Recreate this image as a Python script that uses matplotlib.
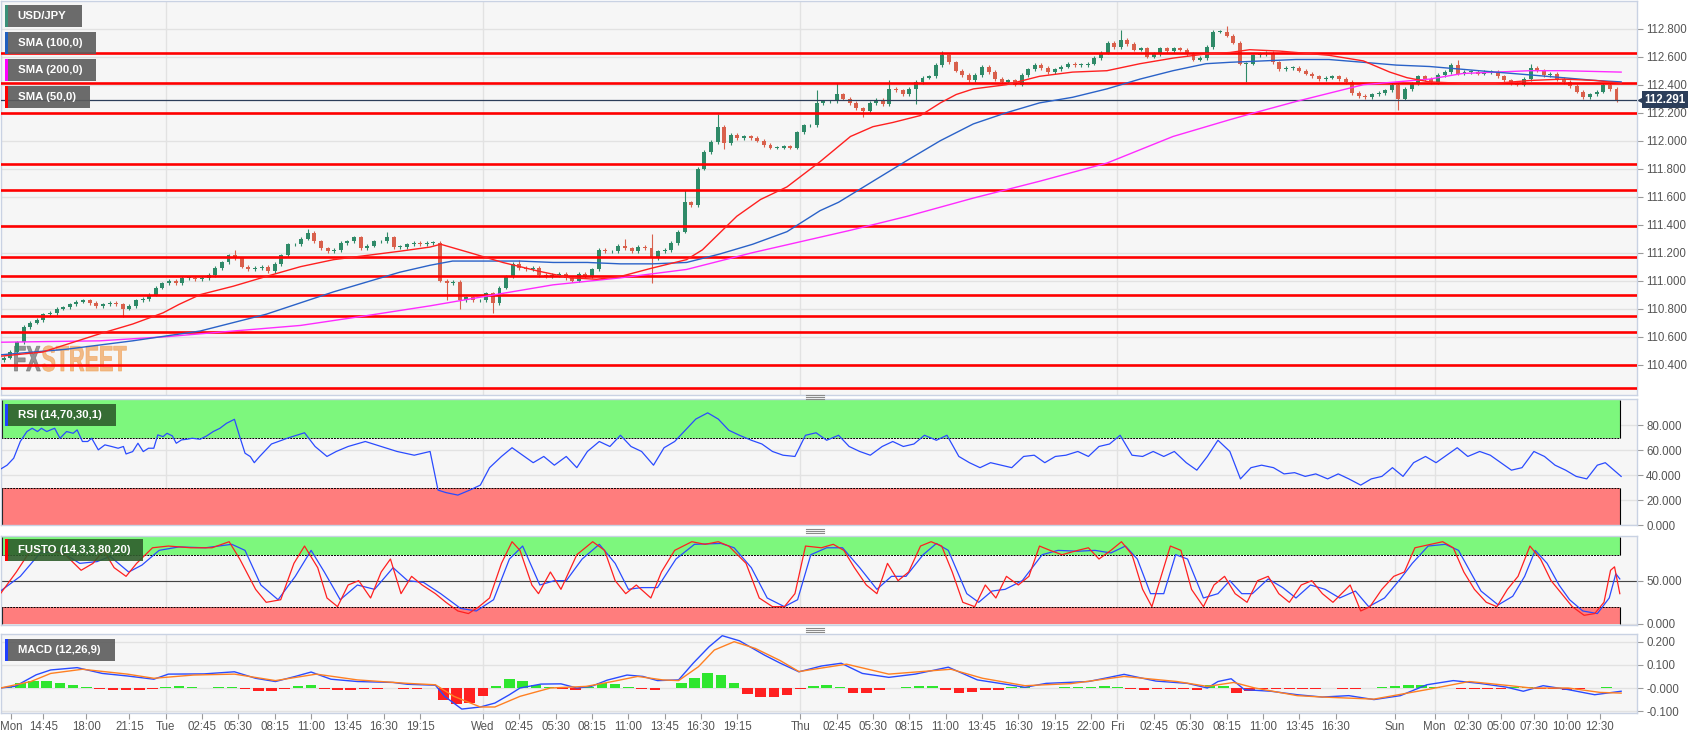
import matplotlib
matplotlib.use("Agg")
import matplotlib.pyplot as plt
import numpy as np
from matplotlib.patches import Rectangle, PathPatch
from matplotlib.lines import Line2D
from matplotlib.textpath import TextPath
from matplotlib.font_manager import FontProperties
from matplotlib.transforms import Affine2D, blended_transform_factory

plt.rcParams['font.family'] = ['Liberation Sans', 'DejaVu Sans']

# time axis is in trading hours from Mon 00:00 (weekend removed)
# 30 min candles, closes at 12.0, 12.5, ... 134.0
first_open = 110.43
close = [
    110.45, 110.49, 110.56, 110.67, 110.70, 110.72, 110.76, 110.77, 110.80, 110.81,
    110.83, 110.85, 110.86, 110.84, 110.82, 110.83, 110.84, 110.83, 110.80, 110.82,
    110.86, 110.87, 110.90, 110.95, 110.98, 111.00, 110.98, 111.02, 111.02, 111.01,
    111.02, 111.04, 111.09, 111.13, 111.18, 111.16, 111.10, 111.08, 111.09, 111.10,
    111.07, 111.12, 111.18, 111.26, 111.26, 111.30, 111.34, 111.28, 111.23, 111.21,
    111.22, 111.27, 111.28, 111.31, 111.23, 111.25, 111.28, 111.28, 111.31, 111.24,
    111.24, 111.26, 111.27, 111.26, 111.27, 111.27, 111.00, 110.98, 110.99, 110.86,
    110.88, 110.86, 110.86, 110.91, 110.84, 110.95, 111.03, 111.12, 111.09, 111.08,
    111.09, 111.04, 111.03, 111.04, 111.05, 111.02, 111.00, 111.05, 111.03, 111.08,
    111.22, 111.21, 111.21, 111.25, 111.23, 111.21, 111.24, 111.23, 111.16, 111.21,
    111.22, 111.27, 111.35, 111.56, 111.54, 111.80, 111.92, 111.99, 112.10, 111.98,
    112.04, 112.02, 112.03, 112.02, 112.00, 111.97, 111.95, 111.95, 111.96, 111.95,
    112.06, 112.11, 112.11, 112.27, 112.28, 112.28, 112.33, 112.30, 112.27, 112.23,
    112.21, 112.27, 112.29, 112.26, 112.37, 112.36, 112.33, 112.37, 112.42, 112.45,
    112.46, 112.54, 112.61, 112.56, 112.50, 112.47, 112.43, 112.47, 112.53, 112.49,
    112.44, 112.42, 112.43, 112.40, 112.47, 112.51, 112.54, 112.52, 112.49, 112.51,
    112.53, 112.55, 112.54, 112.54, 112.55, 112.59, 112.63, 112.70, 112.67, 112.72,
    112.69, 112.65, 112.66, 112.60, 112.62, 112.66, 112.64, 112.66, 112.65, 112.62,
    112.58, 112.59, 112.67, 112.78, 112.78, 112.75, 112.70, 112.55, 112.55, 112.61,
    112.62, 112.63, 112.56, 112.51, 112.52, 112.52, 112.50, 112.48, 112.46, 112.44,
    112.45, 112.46, 112.44, 112.42, 112.34, 112.32, 112.31, 112.33, 112.34, 112.36,
    112.40, 112.30, 112.37, 112.41, 112.46, 112.44, 112.42, 112.47, 112.49, 112.54,
    112.48, 112.49, 112.49, 112.48, 112.49, 112.49, 112.46, 112.43, 112.41, 112.40,
    112.44, 112.52, 112.50, 112.47, 112.48, 112.44, 112.42, 112.39, 112.35, 112.31,
    112.33, 112.35, 112.40, 112.37, 112.29,
]
# long wicks, keyed by candle close time
hi_spike = {29.5: 111.22, 35.0: 111.37, 41.0: 111.35, 51.0: 111.15, 59.0: 111.30,
            61.0: 111.33, 63.5: 111.65, 66.0: 112.19, 73.5: 112.36, 75.0: 112.41,
            79.0: 112.43, 83.0: 112.64, 96.5: 112.79, 104.5: 112.82, 122.0: 112.58,
            127.5: 112.55}
lo_spike = {21.0: 110.74, 45.5: 110.86, 46.5: 110.80, 49.0: 110.77, 61.0: 110.98,
            66.5: 111.94, 77.0: 112.17, 81.0: 112.26, 106.0: 112.42, 117.5: 112.22}
last_price = 112.291
levels = [112.63, 112.41, 112.20, 111.83, 111.65, 111.39, 111.17, 111.03,
          110.90, 110.75, 110.63, 110.40, 110.23]

sma50 = [(11.5, 110.46), (14.7, 110.49), (19, 110.62), (21.5, 110.69), (23.8, 110.77),
         (25, 110.83), (26.6, 110.90), (29.1, 110.96), (31.6, 111.03), (34.2, 111.10),
         (36.7, 111.15), (39.2, 111.18), (41.7, 111.21), (44, 111.24), (44.8, 111.26),
         (47, 111.20), (49.5, 111.13), (52.1, 111.07), (54.6, 111.02), (56.6, 111.01),
         (58.4, 111.03), (60.8, 111.09), (63.4, 111.15), (64.6, 111.22), (65.9, 111.34),
         (67.2, 111.46), (69, 111.58), (71, 111.67), (73.5, 111.85), (75.8, 112.03),
         (77.5, 112.10), (79, 112.13), (81.1, 112.18), (82.6, 112.27), (83.8, 112.33),
         (85.1, 112.37), (87.6, 112.40), (90.1, 112.46), (92.6, 112.49), (95.2, 112.50),
         (97.7, 112.55), (100.2, 112.59), (102.7, 112.62), (104.5, 112.63), (106, 112.65),
         (108.3, 112.64), (112, 112.61), (114.6, 112.57), (116.6, 112.49), (117.9, 112.45),
         (119.6, 112.42), (122.1, 112.41), (124.6, 112.41), (127.2, 112.43), (129.7, 112.44),
         (132.2, 112.43), (134.1, 112.41)]
sma100 = [(11.5, 110.47), (16.5, 110.51), (21.5, 110.57), (26.6, 110.64), (31.6, 110.76),
          (36.7, 110.92), (39.2, 110.99), (41.7, 111.06), (44, 111.11), (45.7, 111.14),
          (48.3, 111.14), (50.8, 111.14), (53.3, 111.13), (55.9, 111.13), (58.4, 111.12),
          (60.8, 111.12), (63.4, 111.13), (65.9, 111.19), (68.4, 111.26), (71, 111.35),
          (73.5, 111.50), (74.9, 111.56), (77.5, 111.71), (80.1, 111.86), (82.6, 112.00),
          (85.1, 112.12), (87.6, 112.20), (90.1, 112.27), (92.6, 112.31), (95.2, 112.37),
          (97.7, 112.44), (100.2, 112.50), (102.7, 112.55), (104.5, 112.56), (107, 112.57),
          (109.5, 112.58), (112, 112.58), (114.6, 112.56), (117.1, 112.54), (119.6, 112.53),
          (122.1, 112.51), (124.6, 112.49), (127.2, 112.47), (129.7, 112.45), (132.2, 112.43),
          (134.1, 112.42)]
sma200 = [(11.5, 110.56), (19, 110.57), (24.1, 110.60), (29.1, 110.64), (34.2, 110.68),
          (39.2, 110.75), (44, 110.82), (48.3, 110.89), (53.3, 110.97), (58.4, 111.02),
          (63.4, 111.08), (68.4, 111.20), (75.8, 111.36), (80.1, 111.46), (85.1, 111.59),
          (90.1, 111.71), (95.2, 111.84), (100.2, 112.03), (104.5, 112.15), (106, 112.19),
          (109.5, 112.28), (114.6, 112.40), (119.6, 112.44), (122.1, 112.48), (124.6, 112.49),
          (127.2, 112.50), (129.7, 112.50), (134.1, 112.49)]

rsi = [(11.5, 44.8), (12.0, 48), (12.5, 53.6), (13.0, 67), (13.5, 75), (13.9, 77.6), (14.3, 75),
       (14.6, 77.6), (15.0, 75), (15.4, 76.8), (15.6, 77.6), (16.0, 69.6), (16.5, 75), (17.0, 73.6),
       (17.3, 76.3), (17.7, 67), (18.1, 67), (18.4, 69.6), (18.9, 60.3), (19.4, 64.3), (19.9, 63),
       (20.4, 61.6), (20.8, 63), (21.0, 57), (21.5, 58.9), (21.9, 65.6), (22.3, 58.9), (22.7, 61.6),
       (23.1, 61.6), (23.4, 72.3), (23.8, 70.9), (24.1, 73.6), (24.5, 71.5), (24.8, 65.6),
       (25.2, 68.3), (25.6, 68.8), (26.0, 69.6), (26.6, 68.8), (27.1, 71.5), (27.6, 75),
       (28.1, 77.6), (28.6, 81.6), (29.2, 84.8), (29.6, 70.9), (30.0, 57.6), (30.4, 54.9),
       (30.7, 50), (31.1, 54.9), (32, 65), (33.3, 70), (34.5, 74), (35.3, 63), (36.2, 55),
       (36.9, 59), (37.8, 63), (39.1, 67), (40.3, 63), (41.5, 59), (42.8, 56), (44.0, 59),
       (44.6, 28), (45.2, 26), (46.1, 24), (47.0, 28), (47.8, 32), (48.5, 46), (49.4, 55),
       (50.2, 62), (51.0, 56), (51.8, 50), (52.6, 55), (53.4, 48), (54.3, 55), (55.1, 46),
       (55.9, 59), (56.8, 67), (57.6, 63), (58.4, 72), (59.2, 63), (60.0, 59), (60.9, 48),
       (61.7, 62), (62.5, 67), (63.3, 76), (64.1, 85), (65.0, 90), (65.8, 85), (66.6, 76),
       (67.4, 72), (68.3, 68), (69.1, 65), (69.9, 59), (70.7, 56), (71.6, 55), (72.4, 72),
       (73.2, 74), (74.0, 68), (74.9, 72), (75.7, 63), (76.5, 59), (77.3, 56), (78.2, 63),
       (79.0, 67), (79.8, 63), (80.6, 65), (81.4, 72), (82.3, 68), (83.1, 72), (84.0, 55),
       (84.8, 50), (85.6, 46), (86.4, 50), (87.2, 48), (88.0, 46), (88.9, 55), (89.7, 56),
       (90.5, 50), (91.3, 55), (92.1, 56), (93.0, 59), (93.8, 55), (94.6, 63), (95.4, 65),
       (96.2, 72), (97.1, 56), (97.9, 55), (98.7, 59), (99.5, 55), (100.3, 59), (101.2, 50),
       (102.0, 44), (102.8, 55), (103.6, 68), (104.5, 59), (105.3, 37), (106.1, 46), (106.9, 48),
       (107.8, 46), (108.6, 41), (109.4, 42), (110.2, 39), (111.0, 41), (111.9, 37), (112.7, 41),
       (113.5, 37), (114.4, 32), (115.2, 37), (116.0, 39), (116.8, 46), (117.6, 39), (118.4, 50),
       (119.3, 55), (120.1, 50), (120.9, 56), (121.7, 62), (122.5, 55), (123.4, 59), (124.2, 56),
       (125.0, 50), (125.8, 44), (126.6, 46), (127.5, 59), (128.3, 55), (129.1, 48), (129.9, 44),
       (130.7, 39), (131.5, 37), (132.3, 48), (132.9, 50), (134.1, 39)]

stoch_k = [(11.5, 35), (12.7, 60), (13.9, 88), (15.2, 85), (16.4, 80), (17.6, 62), (18.5, 70),
           (19.3, 85), (20.1, 65), (21.0, 55), (21.8, 70), (23.0, 88), (24.2, 90), (25.9, 88),
           (27.5, 88), (28.8, 95), (29.6, 75), (30.8, 40), (31.6, 25), (32.7, 28), (33.7, 70),
           (34.5, 90), (35.5, 65), (36.2, 30), (37.0, 20), (37.8, 45), (38.6, 50), (39.5, 30),
           (40.3, 60), (41.0, 75), (41.8, 35), (42.6, 55), (43.4, 45), (44.4, 35), (45.2, 25),
           (46.1, 15), (46.9, 12), (47.7, 20), (48.5, 30), (49.4, 70), (50.2, 95), (50.8, 85),
           (51.7, 45), (52.2, 35), (53.1, 60), (53.9, 40), (55.1, 80), (56.3, 95), (57.2, 85),
           (58.0, 50), (58.8, 35), (59.6, 45), (60.7, 30), (61.5, 60), (62.5, 85), (63.8, 95),
           (64.8, 92), (65.8, 95), (66.6, 90), (67.9, 70), (68.9, 30), (69.9, 20), (70.8, 20),
           (71.6, 35), (72.4, 90), (73.6, 88), (74.5, 92), (75.3, 85), (76.1, 65), (77.0, 45),
           (77.8, 35), (78.6, 70), (79.4, 50), (80.2, 60), (81.1, 90), (81.9, 95), (82.7, 90),
           (83.5, 60), (84.3, 25), (85.2, 20), (86.0, 45), (86.8, 30), (87.6, 55), (88.5, 45),
           (89.3, 55), (90.1, 90), (90.9, 85), (91.8, 80), (93.0, 85), (93.8, 88), (94.6, 75),
           (95.5, 85), (96.3, 95), (97.1, 80), (97.9, 40), (98.6, 20), (99.2, 50), (100.0, 90),
           (100.8, 85), (101.6, 40), (102.5, 20), (103.3, 45), (104.1, 55), (104.9, 35),
           (105.8, 25), (106.6, 50), (107.4, 55), (108.2, 35), (109.0, 25), (109.9, 45),
           (110.7, 50), (111.5, 35), (112.3, 25), (113.6, 45), (114.4, 15), (115.1, 20),
           (116.0, 40), (116.9, 55), (117.7, 60), (118.5, 88), (119.7, 92), (120.6, 95),
           (121.4, 88), (122.2, 60), (123.0, 40), (123.9, 25), (124.7, 20), (125.5, 40),
           (126.3, 55), (127.2, 90), (128.0, 75), (128.8, 50), (129.6, 35), (130.4, 20),
           (131.3, 10), (132.1, 12), (132.8, 25), (133.3, 62), (133.6, 66), (134.0, 35)]
stoch_d = [(11.5, 38), (13.0, 55), (14.5, 82), (16.0, 84), (17.5, 70), (18.8, 72), (19.8, 78),
           (21.2, 60), (22.2, 68), (23.5, 85), (25, 89), (27, 88), (29, 92), (30, 85), (31.2, 45),
           (32.5, 28), (33.8, 55), (35, 85), (36, 60), (37.2, 28), (38.5, 45), (39.8, 40),
           (41.2, 65), (42.3, 50), (43.5, 48), (44.8, 35), (46.3, 18), (47.5, 15), (48.8, 28),
           (50.0, 75), (51.0, 90), (52.3, 45), (53.4, 50), (54.3, 50), (55.5, 75), (56.8, 92),
           (58.0, 70), (59.0, 40), (60.0, 42), (61.2, 42), (62.6, 75), (64, 92), (66, 93),
           (67, 88), (68.3, 65), (69.5, 30), (70.8, 20), (71.8, 28), (72.8, 80), (74, 88),
           (75.2, 88), (76.5, 65), (77.8, 40), (78.9, 55), (80, 55), (81.3, 80), (82.3, 93),
           (83.2, 85), (84.6, 35), (85.5, 25), (86.5, 38), (87.5, 40), (88.8, 50), (90.3, 80),
           (91.5, 85), (93, 84), (94.3, 85), (95.5, 82), (96.6, 90), (97.5, 75), (98.5, 35),
           (99.5, 35), (100.4, 80), (101.3, 75), (102.5, 30), (103.6, 35), (104.5, 50),
           (105.4, 35), (106.2, 35), (107.4, 52), (108.5, 42), (109.5, 30), (110.6, 45),
           (111.7, 40), (112.8, 30), (114.0, 38), (115.0, 20), (116.2, 30), (117.4, 52),
           (118.3, 70), (119.5, 90), (120.8, 92), (121.8, 85), (122.7, 60), (123.5, 38),
           (124.8, 22), (125.9, 32), (126.8, 55), (127.6, 85), (128.5, 70), (129.4, 45),
           (130.2, 28), (131.2, 15), (132.3, 12), (133.2, 30), (133.7, 58), (134.0, 52)]

macd = [(11.5, 0.0), (12.6, 0.007), (14.2, 0.057), (15.3, 0.078), (17.3, 0.088), (19.2, 0.063),
        (21.1, 0.052), (23.1, 0.038), (24.2, 0.060), (26.9, 0.061), (29.2, 0.070), (30.8, 0.042),
        (32.3, 0.028), (33.8, 0.050), (35.0, 0.069), (36.5, 0.038), (38.5, 0.028), (41.2, 0.024),
        (42.3, 0.016), (44.4, 0.012), (45.1, -0.036), (46.4, -0.091), (47.8, -0.082),
        (48.9, -0.065), (50.0, -0.029), (50.8, 0.0), (52.4, 0.017), (53.9, 0.018), (55.1, 0.0),
        (56.2, 0.007), (57.4, 0.034), (58.9, 0.056), (60.1, 0.050), (61.2, 0.032), (62.8, 0.035),
        (63.9, 0.107), (65.1, 0.178), (66.1, 0.226), (67.4, 0.204), (69.3, 0.142), (70.5, 0.107),
        (71.9, 0.070), (73.6, 0.095), (75.1, 0.107), (76.7, 0.063), (78.7, 0.046), (80.7, 0.060),
        (83.2, 0.090), (85.4, 0.035), (87.8, 0.014), (89.0, 0.003), (90.6, 0.020), (93.8, 0.028),
        (96.5, 0.059), (98.9, 0.030), (101.3, 0.020), (102.8, 0.0), (103.6, 0.028), (104.6, 0.040),
        (105.6, -0.007), (107.6, -0.014), (109.6, -0.029), (111.5, -0.039), (113.5, -0.033),
        (115.4, -0.050), (117.4, -0.033), (119.4, 0.014), (121.4, 0.032), (123.4, 0.020),
        (125.4, 0.004), (126.7, -0.014), (128.2, 0.010), (130.1, -0.007), (132.1, -0.029),
        (134.1, -0.014)]
signal = [(11.5, 0.0), (13.8, 0.028), (15.3, 0.063), (17.7, 0.081), (21.1, 0.060), (23.1, 0.042),
          (26.1, 0.056), (29.2, 0.060), (32.3, 0.032), (35.4, 0.060), (38.5, 0.035), (42.3, 0.020),
          (44.4, 0.014), (45.8, -0.036), (47.8, -0.082), (48.9, -0.082), (50.8, -0.036),
          (53.1, 0.0), (55.8, 0.007), (57.8, 0.028), (59.7, 0.050), (61.6, 0.035), (62.8, 0.032),
          (64.3, 0.092), (65.5, 0.164), (67.0, 0.200), (68.6, 0.171), (70.5, 0.118), (71.9, 0.071),
          (75.5, 0.103), (78.7, 0.060), (83.4, 0.081), (85.8, 0.042), (89.0, 0.010), (92.5, 0.019),
          (96.5, 0.050), (100.5, 0.028), (102.8, 0.007), (104.8, 0.024), (106.4, 0.0),
          (109.6, -0.033), (111.5, -0.039), (115.4, -0.048), (119.4, -0.007), (122.6, 0.028),
          (125.7, 0.010), (127.3, 0.0), (130.1, 0.0), (132.5, -0.019), (134.1, -0.022)]
# histogram, one value per hour from 12 to 134
hist = [0.005, 0.02, 0.03, 0.03, 0.02, 0.012, 0.005, -0.005, -0.008, -0.01,
        -0.008, -0.003, 0.005, 0.008, 0.005, 0.0, 0.004, 0.006, -0.005, -0.012,
        -0.012, -0.005, 0.008, 0.012, -0.005, -0.01, -0.008, -0.005, -0.003, -0.002,
        -0.006, -0.004, -0.002, -0.05, -0.07, -0.065, -0.035, 0.01, 0.038, 0.032,
        0.015, 0.005, -0.005, -0.008, 0.005, 0.02, 0.018, 0.005, -0.005, -0.008,
        0.0, 0.02, 0.045, 0.063, 0.058, 0.022, -0.025, -0.037, -0.038, -0.03,
        -0.005, 0.01, 0.015, 0.005, -0.02, -0.022, -0.01, -0.002, 0.004, 0.008,
        0.01, -0.01, -0.02, -0.018, -0.01, -0.008, 0.005, 0.003, 0.002, 0.001,
        0.005, 0.006, 0.004, 0.008, 0.005, -0.005, -0.008, -0.006, -0.004, -0.006,
        -0.008, 0.015, 0.01, -0.02, -0.015, -0.005, -0.005, -0.003, -0.004, -0.003,
        0.002, -0.004, -0.006, 0.0, 0.003, 0.01, 0.015, 0.013, 0.005, 0.0,
        -0.003, -0.005, -0.006, -0.004, 0.005, 0.004, -0.003, -0.006, -0.007, -0.004,
        -0.002, 0.003, 0.002]

tick_h = [12.3, 14.75, 18, 21.25, 24, 26.75, 29.5, 32.25, 35, 37.75, 40.5, 43.25, 48, 50.75,
          53.5, 56.25, 59, 61.75, 64.5, 67.25, 72, 74.75, 77.5, 80.25, 83, 85.75, 88.5, 91.25,
          94, 96, 98.75, 101.5, 104.25, 107, 109.75, 112.5, 117, 120, 122.5, 125, 127.5, 130,
          132.5]
tick_lab = ['Mon', '14:45', '18:00', '21:15', 'Tue', '02:45', '05:30', '08:15', '11:00', '13:45',
            '16:30', '19:15', 'Wed', '02:45', '05:30', '08:15', '11:00', '13:45', '16:30', '19:15',
            'Thu', '02:45', '05:30', '08:15', '11:00', '13:45', '16:30', '19:15', '22:00', 'Fri',
            '02:45', '05:30', '08:15', '11:00', '13:45', '16:30', 'Sun', 'Mon', '02:30', '05:00',
            '07:30', '10:00', '12:30']
day_h = [24, 48, 72, 96, 117, 120]

W, H = 1707, 738
X0, X1 = 11.54, 135.3
DATA_END = 134.0

fig = plt.figure(figsize=(W / 100, H / 100), dpi=100)
fig.patch.set_facecolor('white')


def rect(x0, y0, x1, y1):
    return [x0 / W, 1 - y1 / H, (x1 - x0) / W, (y1 - y0) / H]


ax_p = fig.add_axes(rect(1, 1, 1637, 395))
ax_r = fig.add_axes(rect(1, 399, 1637, 525))
ax_s = fig.add_axes(rect(1, 536, 1637, 625))
ax_m = fig.add_axes(rect(1, 634, 1637, 712.5))

for ax in (ax_p, ax_r, ax_s, ax_m):
    ax.set_facecolor('#f6f6f6')
    ax.set_xlim(X0, X1)
    for s in ax.spines.values():
        s.set_color('#c9d2e3')
        s.set_linewidth(1)
    ax.yaxis.tick_right()
    ax.tick_params(axis='y', length=4, color='#9a9a9a', pad=2.5, labelsize=8.3,
                   labelcolor='#555555')
    ax.tick_params(axis='x', bottom=False, labelbottom=False)
    ax.grid(axis='y', color='#e2e2e2', lw=1)
    ax.set_axisbelow(True)
    for d in day_h:
        ax.axvline(d, color='#e2e2e2', lw=1, zorder=0)

# ---- price panel
opens = [first_open] + close[:-1]
t_end = [12.0 + 0.5 * i for i in range(len(close))]
highs = []
lows = []
for t, o, c in zip(t_end, opens, close):
    highs.append(hi_spike.get(t, max(o, c) + 0.012))
    lows.append(lo_spike.get(t, min(o, c) - 0.012))
centers = np.array(t_end) - 0.25
up_col, dn_col = '#2f8a68', '#d9604c'
cols = [up_col if c >= o else dn_col for o, c in zip(opens, close)]
ax_p.vlines(centers, lows, highs, colors=cols, lw=0.8, zorder=3)
body = [max(abs(c - o), 0.005) for o, c in zip(opens, close)]
ax_p.bar(centers, body, bottom=np.minimum(opens, close), width=0.3, color=cols, zorder=4)

for lv in levels:
    ax_p.axhline(lv, color='#ff0000', lw=1.9, zorder=5)
ax_p.axhline(last_price, color='#2c3e5a', lw=0.9, zorder=5)

for pts, col in ((sma200, '#ff2bff'), (sma100, '#2a62c8'), (sma50, '#ff2020')):
    t, v = zip(*pts)
    ax_p.plot(t, v, color=col, lw=1.0, zorder=6)

ax_p.set_ylim(110.183, 112.998)
ax_p.set_yticks(np.arange(110.4, 112.81, 0.2))
ax_p.yaxis.set_major_formatter(plt.FormatStrFormatter('%.3f'))

tr = blended_transform_factory(ax_p.transAxes, ax_p.transData)
ax_p.text(1.0045, last_price, '112.291', transform=tr, color='white', weight='bold',
          size=8.3, va='center', ha='left', clip_on=False, zorder=10,
          bbox=dict(boxstyle='square,pad=0.22', fc='#2c3e5a', ec='none'))
ax_p.plot([1.0025], [last_price], marker='<', ms=5, color='#2c3e5a', transform=tr,
          clip_on=False, zorder=10)

# watermark
fp = FontProperties(family='Liberation Sans', weight='bold')
sx = 0.6
tp1 = TextPath((0, 0), 'FX', size=36, prop=fp)
tp2 = TextPath((0, 0), 'STREET', size=36, prop=fp)
w1 = tp1.get_extents().x1 * sx
for tp, xoff, col in ((tp1, 13, '#707070'), (tp2, 13 + w1 + 1, '#f0a45c')):
    trans = Affine2D().scale(sx / W, 1 / H).translate(xoff / W, 1 - 371 / H) + fig.transFigure
    ax_p.add_patch(PathPatch(tp, transform=trans, fc=col, ec=col, lw=0.6, alpha=0.72, zorder=1))

# ---- RSI panel
ax_r.add_patch(Rectangle((X0, 70), DATA_END - X0, 30, fc='#7df77d', ec='none', zorder=1))
ax_r.add_patch(Rectangle((X0, 0), DATA_END - X0, 30, fc='#ff7d7d', ec='none', zorder=1))
for yv in (70, 30):
    ax_r.hlines(yv, X0, DATA_END, colors='black', linestyles=(0, (2, 1)), lw=0.7, zorder=2)
ax_r.vlines([X0 + 0.05, DATA_END], 70, 100, colors='black', lw=0.8, zorder=2)
ax_r.vlines([X0 + 0.05, DATA_END], 0, 30, colors='black', lw=0.8, zorder=2)
t, v = zip(*rsi)
ax_r.plot(t, v, color='#2a4bff', lw=0.9, zorder=3)
ax_r.set_ylim(0, 101.1)
ax_r.set_yticks([0, 20, 40, 60, 80])
ax_r.yaxis.set_major_formatter(plt.FormatStrFormatter('%.3f'))

# ---- stochastic panel
ax_s.add_patch(Rectangle((X0, 80), DATA_END - X0, 20, fc='#7df77d', ec='none', zorder=1))
ax_s.add_patch(Rectangle((X0, 0), DATA_END - X0, 20, fc='#ff7d7d', ec='none', zorder=1))
for yv in (80, 20):
    ax_s.hlines(yv, X0, DATA_END, colors='black', linestyles=(0, (2, 1)), lw=0.7, zorder=2)
ax_s.vlines([X0 + 0.05, DATA_END], 80, 100, colors='black', lw=0.8, zorder=2)
ax_s.vlines([X0 + 0.05, DATA_END], 0, 20, colors='black', lw=0.8, zorder=2)
ax_s.axhline(50, color='#444444', lw=0.8, zorder=2)
t, v = zip(*stoch_d)
ax_s.plot(t, v, color='#2a4bff', lw=0.9, zorder=3)
t, v = zip(*stoch_k)
ax_s.plot(t, v, color='#ff2020', lw=0.9, zorder=3)
ax_s.set_ylim(-1.2, 101.6)
ax_s.set_yticks([0, 50])
ax_s.yaxis.set_major_formatter(plt.FormatStrFormatter('%.3f'))

# ---- MACD panel
hist_h = np.arange(12, 12 + len(hist))
ax_m.bar(hist_h, hist, width=0.8, color=['#2ee62e' if h >= 0 else '#ff2020' for h in hist],
         zorder=2)
t, v = zip(*macd)
ax_m.plot(t, v, color='#2a4bff', lw=1.0, zorder=3)
t, v = zip(*signal)
ax_m.plot(t, v, color='#ff8022', lw=1.0, zorder=3)
ax_m.set_ylim(-0.1058, 0.2333)
ax_m.set_yticks([-0.1, 0.0, 0.1, 0.2])
ax_m.set_yticklabels(['-0.100', '-0.000', '0.100', '0.200'])
ax_m.set_xticks(tick_h)
ax_m.set_xticklabels(tick_lab)
ax_m.tick_params(axis='x', bottom=True, labelbottom=True, length=4, color='#9a9a9a',
                 pad=2, labelsize=8.3, labelcolor='#555555')
ax_m.set_xlim(X0, X1)

# ---- legend boxes


def label_box(x0, y0, x1, y1, fc, strip, text):
    fig.add_artist(Rectangle((x0 / W, 1 - y1 / H), (x1 - x0) / W, (y1 - y0) / H,
                             transform=fig.transFigure, fc=fc, ec='none', alpha=0.9, zorder=5))
    fig.add_artist(Rectangle(((x0 - 2.5) / W, 1 - y1 / H), 2.5 / W, (y1 - y0) / H,
                             transform=fig.transFigure, fc=strip, ec='none', zorder=5))
    fig.text((x0 + 10) / W, 1 - (y0 + y1) / 2 / H, text, color='white', weight='bold',
             size=8.2, va='center', ha='left', zorder=6)


label_box(7.5, 5, 82, 27, '#5c5c5c', '#3a8f78', 'USD/JPY')
label_box(7.5, 32, 96, 54, '#5c5c5c', '#1f5fbf', 'SMA (100,0)')
label_box(7.5, 59, 96, 81, '#5c5c5c', '#ff00ff', 'SMA (200,0)')
label_box(7.5, 86, 90, 108, '#5c5c5c', '#ff0000', 'SMA (50,0)')
label_box(7.5, 404, 116, 426, '#2f5e2c', '#1f3fff', 'RSI (14,70,30,1)')
label_box(7.5, 539, 143, 561, '#2f5e2c', '#ff0000', 'FUSTO (14,3,3,80,20)')
label_box(7.5, 639, 115, 661, '#5c5c5c', '#1f3fff', 'MACD (12,26,9)')

# panel resize handles
for yc in (396.5, 530.5, 629.5):
    for dy in (-2, 0, 2):
        fig.add_artist(Line2D([806 / W, 824 / W], [1 - (yc + dy) / H] * 2,
                              transform=fig.transFigure, color='#8a8a8a', lw=0.8, zorder=7))

fig.savefig('out.png', dpi=100, facecolor='white')
